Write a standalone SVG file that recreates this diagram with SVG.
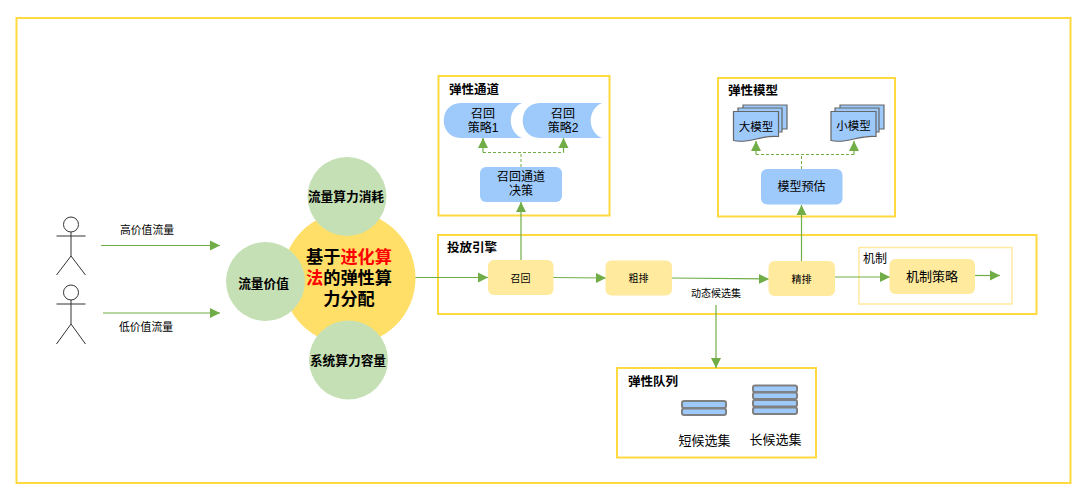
<svg xmlns="http://www.w3.org/2000/svg" width="1080" height="495" viewBox="0 0 1080 495">
<defs>
<marker id="a" markerUnits="userSpaceOnUse" markerWidth="11" markerHeight="11" refX="10" refY="5.500" orient="auto"><path d="M0 0.500L10 5.500L0 10.500Z" fill="#70ad47"/></marker>
<path id="doc1" d="M0 0V29C15 33 28 23 45 25V0H0Z"/>
<path id="back" d="M0 0V24H44V0Z"/>
</defs>
<style>
text{font-family:"Liberation Sans","Noto Sans CJK SC",sans-serif;fill:#000;text-anchor:middle}
.box{fill:#fff;stroke:#ffd940;stroke-width:2}
.t{font-size:12.500px;font-weight:700;text-anchor:start}
.s{font-size:10.800px}
.m{font-size:12.700px;font-weight:700}
.yl{fill:#ffea9e}
.bl{fill:#9dc9fb}
.g{fill:#c5e0b4}
.ln{fill:none;stroke:#70ad47;stroke-width:1.200;marker-end:url(#a)}
.da{fill:none;stroke:#70ad47;stroke-width:1;stroke-dasharray:3 2}
.pp{fill:none;stroke:#333;stroke-width:1}
.doc{fill:#9dc9fb;stroke:#666;stroke-width:1.200}
.disk{fill:#9dc9fb;stroke:#808080;stroke-width:2}
</style>
<rect width="1080" height="495" fill="#fff"/>
<rect class="box" x="16.500" y="18" width="1054" height="465"/>
<rect class="box" x="438.500" y="76" width="171" height="139.500"/>
<rect class="box" x="718" y="78" width="177" height="138.500"/>
<rect class="box" x="438" y="235" width="598.500" height="79"/>
<rect class="box" x="617" y="368" width="199" height="89.500"/>
<rect x="859" y="247.500" width="153" height="56.500" fill="#fff" stroke="#ffea9e" stroke-width="1.500"/>
<g id="connectors">
<path class="ln" d="M101 245.500H220"/>
<path class="ln" d="M103 313H220"/>
<path class="ln" d="M415 277.500H488"/>
<path class="ln" d="M553 277.500L606 278"/>
<path class="ln" d="M672 278L769 279"/>
<path class="ln" d="M835 277H890"/>
<path class="ln" d="M975 275.500H1000"/>
<path class="ln" d="M521 260V202"/>
<path class="ln" d="M801.500 261V205"/>
<path class="ln" d="M716 305V368"/>
<path class="da" d="M521 167V152.500M483 152.500H563.500"/>
<path class="ln" d="M483 152.500V138"/>
<path class="ln" d="M563.500 152.500V138"/>
<path class="da" d="M801.500 169V154.500M756 154.500H854"/>
<path class="ln" d="M756 154.500V141"/>
<path class="ln" d="M854 154.500V141"/>
</g>
<g id="user1" class="pp"><circle cx="71" cy="224.500" r="7.500"/><path d="M71 232V256M56.500 236H85.500M56.500 275L71 256L85.500 275"/></g>
<g id="user2" class="pp"><circle cx="71" cy="292.500" r="7.500"/><path d="M71 300V324M56.500 304H85.500M56.500 344L71 324L85.500 344"/></g>
<text class="s" x="147" y="234">高价值流量</text>
<text class="s" x="146" y="331">低价值流量</text>
<g id="core"><circle cx="349" cy="278" r="66.500" fill="#ffdf67"/>
<text font-size="17.200" font-weight="700" x="349" y="263">基于<tspan fill="#f00">进化算</tspan></text>
<text font-size="17.200" font-weight="700" x="349" y="284"><tspan fill="#f00">法</tspan>的弹性算</text>
<text font-size="17.200" font-weight="700" x="349" y="304.500">力分配</text></g>
<g id="n1"><circle class="g" cx="347" cy="196.500" r="39.500"/><text class="m" x="346" y="201">流量算力消耗</text></g>
<g id="n2"><circle class="g" cx="265.500" cy="281.500" r="39.500"/><text class="m" x="263.500" y="288">流量价值</text></g>
<g id="n3"><circle class="g" cx="348.500" cy="360" r="39.500"/><text class="m" x="348" y="365">系统算力容量</text></g>
<g id="recall"><rect class="yl" x="488" y="260" width="65.500" height="35" rx="6"/><text font-size="10" x="520.500" y="281.500">召回</text></g>
<g id="rough"><rect class="yl" x="605.500" y="260.500" width="66.500" height="35" rx="6"/><text font-size="10" x="638.500" y="282">粗排</text></g>
<g id="fine"><rect class="yl" x="768.500" y="261" width="66.500" height="35" rx="6"/><text font-size="10" x="801.500" y="283">精排</text></g>
<g id="mech"><text font-size="12" x="875" y="263">机制</text><rect class="yl" x="889.500" y="259" width="85.500" height="35" rx="6"/><text font-size="13" x="932" y="281">机制策略</text></g>
<text font-size="10" x="716" y="297">动态候选集</text>
<text class="t" x="447" y="252">投放引擎</text>
<text class="t" x="449" y="94">弹性通道</text>
<g id="s1"><path class="bl" d="M461 103H522C507 109 507 132 522 138H461C438 138 438 103 461 103Z"/><text font-size="12" x="483" y="118">召回</text><text font-size="12" x="483" y="131.500">策略1</text></g>
<g id="s2"><path class="bl" d="M540 103H602C587 109 587 132 602 138H540C517 138 517 103 540 103Z"/><text font-size="12" x="563" y="118">召回</text><text font-size="12" x="563" y="131.500">策略2</text></g>
<g id="dec"><rect class="bl" x="480" y="167" width="82" height="35" rx="6"/><text font-size="12" x="521" y="181">召回通道</text><text font-size="12" x="521" y="195">决策</text></g>
<text class="t" x="728" y="95">弹性模型</text>
<g id="big"><use href="#back" class="doc" x="743" y="105"/><use href="#back" class="doc" x="738" y="108"/><use href="#doc1" class="doc" x="733.500" y="111.500"/><text font-size="11.500" x="756" y="130.500">大模型</text></g>
<g id="small"><use href="#back" class="doc" x="840" y="105"/><use href="#back" class="doc" x="835" y="108"/><use href="#doc1" class="doc" x="831" y="111.500"/><text font-size="11.500" x="853.500" y="130">小模型</text></g>
<g id="pred"><rect class="bl" x="761" y="169" width="81.500" height="35.500" rx="6"/><text font-size="12" x="801.500" y="191">模型预估</text></g>
<text class="t" x="628" y="386">弹性队列</text>
<g id="q1"><rect class="disk" x="682" y="408.500" width="44" height="6.500" rx="2"/><rect class="disk" x="682" y="401" width="44" height="7" rx="2"/><text font-size="13" x="704.500" y="445">短候选集</text></g>
<g id="q2"><rect class="disk" x="753" y="407.500" width="44" height="6.500" rx="2"/><rect class="disk" x="753" y="400" width="44" height="6.500" rx="2"/><rect class="disk" x="753" y="392.500" width="44" height="6.500" rx="2"/><rect class="disk" x="753" y="385.500" width="44" height="6.500" rx="2"/><text font-size="13" x="775.500" y="444">长候选集</text></g>
</svg>
